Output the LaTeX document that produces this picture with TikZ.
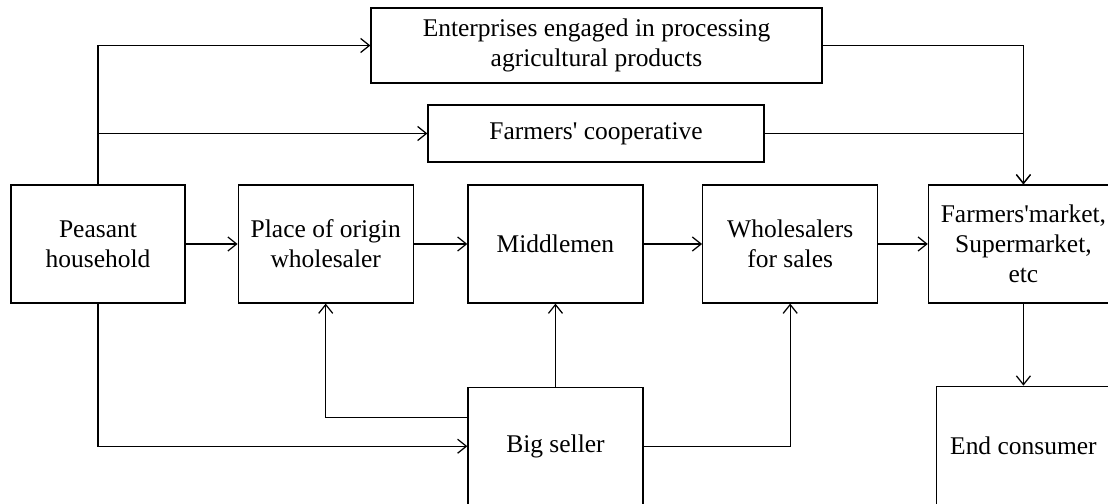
\documentclass[tikz,border=0pt]{standalone}
\usepackage{fontspec}
\newfontfamily\diagfont{Liberation Serif}
\usepackage{tikz}
\usetikzlibrary{positioning}
\usetikzlibrary{arrows.meta}
\tikzset{
	stage/.style={draw, rectangle, inner sep=2pt, minimum width=3.5cm, minimum height=2.36cm, align=center, line width=0.7pt},
	% wide boxes on top
	channel/.style={draw, rectangle, inner sep=2pt, align=center, line width=0.7pt},
}

\begin{document}
\begin{tikzpicture}[font=\diagfont\fontsize{14.5}{17}\selectfont]
			\useasboundingbox (0,0) rectangle (22.16,-10.08);
			
			\node (peasant) [stage, minimum width=3.48cm] at (1.96,-4.88) {Peasant\\household};
			\node (origin) [stage, right=1.04cm of peasant] {Place of origin\\wholesaler};
			\node (middle) [stage, right=1.07cm of origin] {Middlemen};
			\node (wholesale) [stage, right=1.17cm of middle] {Wholesalers\\for sales};
			\node (market) [stage, minimum width=3.8cm, right=0.99cm of wholesale] {Farmers'market,\\Supermarket,\\etc};
			
			\node (endcons) [stage, minimum width=3.48cm, minimum height=2.4cm, below=1.64cm of market] {End consumer};
			\node (bigseller) [stage, below=1.66cm of middle] {Big seller};
			
			\node (enterprise) [channel, minimum width=9.02cm, minimum height=1.5cm] at (11.93,-0.91) {Enterprises engaged in processing\\agricultural products};
			\node (coop) [channel, minimum width=6.72cm, minimum height=1.14cm] at (11.92,-2.67) {Farmers' cooperative};
			
			\begin{scope}[line width=0.7pt, black, ->, >={Straight Barb[length=5pt, width=8pt]}]
				\draw (peasant) -- (origin);
				\draw (origin) -- (middle);
				\draw (middle) -- (wholesale);
				\draw (wholesale) -- (market);
				\draw (market) -- (endcons);
				
				\draw (peasant.north) |- (enterprise.west);
				\draw (peasant.north) |- (coop.west);
				\draw (enterprise.east) -| (market.north);
				\draw (coop.east) -| (market.north);
				
				\draw (peasant.south) |- (bigseller.west);
				\draw ([yshift=0.58cm]bigseller.west) -| (origin.south);
				\draw (bigseller) -- (middle);
				\draw (bigseller.east) -| (wholesale.south);
			\end{scope}
			
		\end{tikzpicture}
\end{document}
